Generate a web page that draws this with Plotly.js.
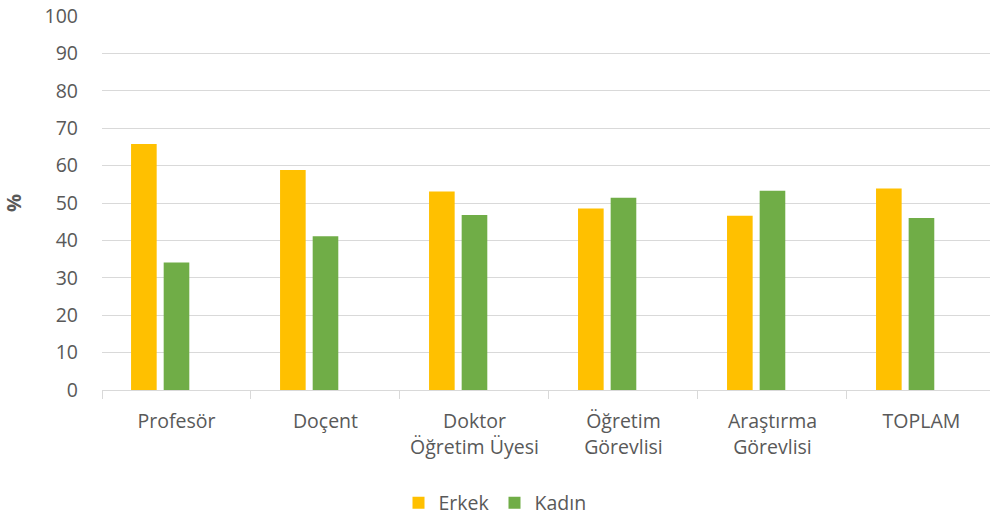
<!DOCTYPE html>
<html>
<head>
<meta charset="utf-8">
<script src="https://cdn.plot.ly/plotly-3.0.1.min.js"></script>
<style>html,body{margin:0;padding:0;background:#fff;}#chart{width:990px;height:517px;}</style>
</head>
<body>
<div id="chart"></div>
<script>
const categories = ["Profesör", "Doçent", "Doktor<br>Öğretim Üyesi", "Öğretim<br>Görevlisi", "Araştırma<br>Görevlisi", "TOPLAM"];
const erkek = [65.8, 58.8, 53.1, 48.5, 46.6, 53.9];
const kadin = [34.1, 41.1, 46.8, 51.4, 53.3, 46.0];
const yTicks = [0, 10, 20, 30, 40, 50, 60, 70, 80, 90, 100];

const fontFam = "Open Sans, sans-serif";
const txt = "#595959";

const traces = [
  {type: "bar", name: "Erkek", x: categories, y: erkek, width: 0.172, offset: -0.305,
   marker: {color: "#FFC000", line: {width: 0}}},
  {type: "bar", name: "Kadın", x: categories, y: kadin, width: 0.172, offset: -0.086,
   marker: {color: "#70AD47", line: {width: 0}}}
];

const layout = {
  width: 990, height: 517,
  margin: {l: 102, r: 0, t: 16, b: 127, autoexpand: false},
  paper_bgcolor: "#fff", plot_bgcolor: "#fff",
  barmode: "overlay",
  font: {family: fontFam, size: 19.5, color: txt},
  xaxis: {
    type: "category", range: [-0.5, 5.46], tickson: "boundaries", automargin: false,
    ticks: "outside", ticklen: 8, tickcolor: "#D9D9D9", tickwidth: 1,
    showline: true, linecolor: "#D9D9D9", linewidth: 1,
    showgrid: false, ticklabelstandoff: 14,
    tickfont: {family: fontFam, size: 19.5, color: txt}, fixedrange: true
  },
  yaxis: {
    range: [0, 100], tickvals: yTicks, ticktext: yTicks.map(String), automargin: true,
    showgrid: true, gridcolor: "#D9D9D9", gridwidth: 1,
    zeroline: false, showline: false, ticks: "", ticklabelstandoff: 23,
    tickfont: {family: fontFam, size: 19.5, color: txt},
    title: {text: "%", font: {family: fontFam, size: 20, color: txt, weight: "bold"}, standoff: 18}
  },
  showlegend: true,
  legend: {orientation: "h", x: 0.5, xref: "container", xanchor: "center", y: -0.25, yanchor: "top",
    font: {family: fontFam, size: 19.5, color: txt}, itemwidth: 30, traceorder: "normal"}
};

Plotly.newPlot("chart", traces, layout, {displayModeBar: false, staticPlot: true});
</script>
</body>
</html>
